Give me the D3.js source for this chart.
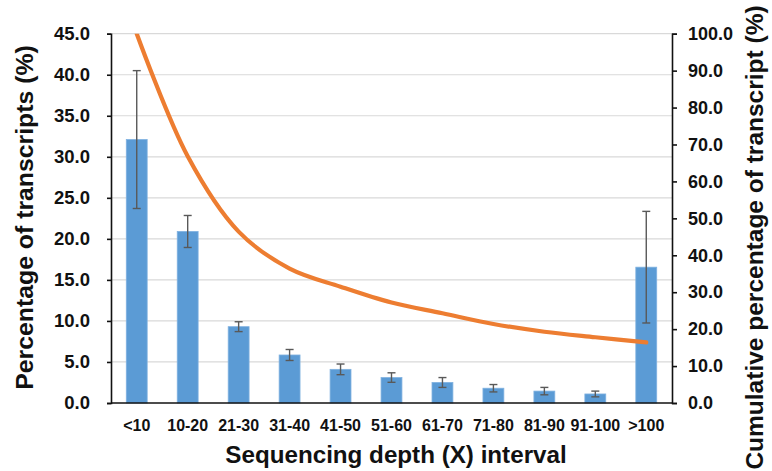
<!DOCTYPE html>
<html>
<head>
<meta charset="utf-8">
<script src="https://cdnjs.cloudflare.com/ajax/libs/d3/7.8.5/d3.min.js"></script>
<style>
  body { margin: 0; background: #fff; }
  text { font-family: "Liberation Sans", Arial, sans-serif; font-weight: bold; fill: #111; }
</style>
</head>
<body>
<div id="chart"></div>
<script>
// data
const intervals = ["<10", "10-20", "21-30", "31-40", "41-50", "51-60", "61-70", "71-80", "81-90", "91-100", ">100"];
const percentTranscripts = [32.1, 20.9, 9.3, 5.85, 4.1, 3.1, 2.5, 1.8, 1.45, 1.1, 16.55];
const errorValues = [8.4, 1.95, 0.6, 0.67, 0.65, 0.58, 0.6, 0.45, 0.45, 0.35, 6.8];
const cumulativePercent = [100, 66.8, 46.4, 36.4, 31.5, 27.2, 24.3, 21.4, 19.3, 17.8, 16.4];
const leftTicks = [0, 5, 10, 15, 20, 25, 30, 35, 40, 45];
const rightTicks = [0, 10, 20, 30, 40, 50, 60, 70, 80, 90, 100];

const W = 772, H = 471;
const margin = {top: 33.7, right: 100, bottom: 68, left: 111};
const width = W - margin.left - margin.right;
const height = H - margin.top - margin.bottom;

const svg = d3.select("#chart").append("svg")
    .attr("width", W)
    .attr("height", H);

const g = svg.append("g")
    .attr("transform", `translate(${margin.left},${margin.top})`);

// scales
const x = d3.scaleBand().domain(intervals).range([0, width]).paddingInner(0.59).paddingOuter(0.3);
const yL = d3.scaleLinear().domain([0, 45]).range([height, 0]);
const yR = d3.scaleLinear().domain([0, 100]).range([height, 0]);

// gridlines
g.append("g")
    .selectAll("line")
    .data(leftTicks.slice(1))
    .enter().append("line")
    .attr("x1", 0).attr("x2", width)
    .attr("y1", d => yL(d)).attr("y2", d => yL(d))
    .attr("stroke", "#d9d9d9")
    .attr("stroke-width", 1.2);

// bars
g.append("g")
    .selectAll("rect")
    .data(percentTranscripts)
    .enter().append("rect")
    .attr("x", (d, i) => x(intervals[i]))
    .attr("y", d => yL(d))
    .attr("width", x.bandwidth())
    .attr("height", d => height - yL(d))
    .attr("fill", "#5b9bd5")
    .attr("stroke", "#7fb1e0")
    .attr("stroke-width", 0.8);

// error bars
const err = g.append("g").attr("stroke", "#595959").attr("stroke-width", 1.4);
percentTranscripts.forEach((v, i) => {
    let cx = x(intervals[i]) + x.bandwidth() / 2;
    let hi = yL(v + errorValues[i]), lo = yL(v - errorValues[i]);
    err.append("line").attr("x1", cx).attr("x2", cx).attr("y1", hi).attr("y2", lo);
    err.append("line").attr("x1", cx - 4).attr("x2", cx + 4).attr("y1", hi).attr("y2", hi);
    err.append("line").attr("x1", cx - 4).attr("x2", cx + 4).attr("y1", lo).attr("y2", lo);
});

// cumulative line
svg.append("defs").append("clipPath").attr("id", "plotClip")
    .append("rect").attr("x", 0).attr("y", 0).attr("width", width).attr("height", height);

const line = d3.line()
    .x((d, i) => x(intervals[i]) + x.bandwidth() / 2)
    .y(d => yR(d))
    .curve(d3.curveCatmullRom.alpha(0.5));

g.append("path")
    .datum(cumulativePercent)
    .attr("clip-path", "url(#plotClip)")
    .attr("d", line)
    .attr("fill", "none")
    .attr("stroke", "#ed7d31")
    .attr("stroke-width", 4.2)
    .attr("stroke-linecap", "round");

// axes
const leftAxis = g.append("g")
    .call(d3.axisLeft(yL).tickValues(leftTicks).tickFormat(d3.format(".1f")).tickSize(4).tickPadding(17));
const rightAxis = g.append("g")
    .attr("transform", `translate(${width},0)`)
    .call(d3.axisRight(yR).tickValues(rightTicks).tickFormat(d3.format(".1f")).tickSize(5).tickPadding(11));
const bottomAxis = g.append("g")
    .attr("transform", `translate(0,${height})`)
    .call(d3.axisBottom(x).tickSize(0).tickPadding(17));

[leftAxis, rightAxis, bottomAxis].forEach(a => {
    a.selectAll("path, line").attr("stroke", "#111").attr("stroke-width", 1.6);
    a.selectAll("text").attr("font-family", "Liberation Sans, Arial, sans-serif").attr("font-weight", "bold").attr("fill", "#111");
});
leftAxis.selectAll("text").attr("font-size", "18.5px");
rightAxis.selectAll("text").attr("font-size", "18px");
bottomAxis.selectAll("text").attr("font-size", "16px");
bottomAxis.select(".domain").attr("d", `M0,0H${width}`);

// axis titles
svg.append("text")
    .attr("transform", "translate(33,217.5) rotate(-90)")
    .attr("text-anchor", "middle")
    .attr("font-size", "24.8px")
    .text("Percentage of transcripts (%)");

svg.append("text")
    .attr("transform", "translate(763,237.5) rotate(-90)")
    .attr("text-anchor", "middle")
    .attr("font-size", "24.5px")
    .text("Cumulative percentage of transcript (%)");

svg.append("text")
    .attr("x", 396)
    .attr("y", 463)
    .attr("text-anchor", "middle")
    .attr("font-size", "24.2px")
    .text("Sequencing depth (X) interval");
</script>
</body>
</html>
